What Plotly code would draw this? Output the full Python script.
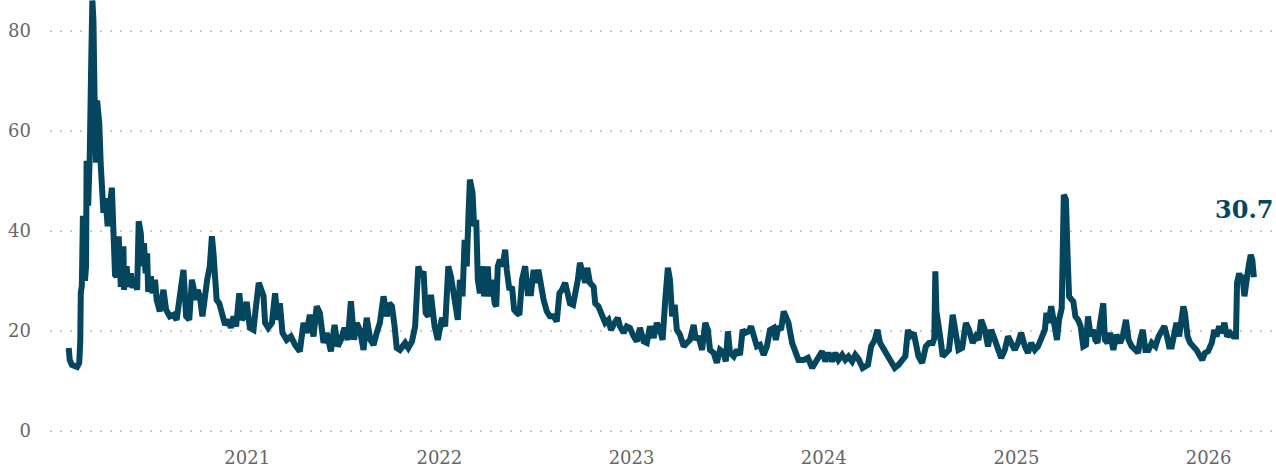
import pandas as pd
import plotly.graph_objects as go

# Euro Stoxx 50 volatility index (VSTOXX), daily closes sampled every few sessions.
# Observations are given as day counts from the series origin.
ORIGIN = pd.Timestamp("2020-01-01")

days = [
    27, 29, 33, 38, 43, 47, 49, 50, 52, 54, 56, 58, 60, 61, 64, 67, 70, 72, 74, 76,
    79, 81, 85, 88, 90, 93, 97, 101, 109, 112, 115, 118, 122, 126, 131, 132, 137, 140, 145, 148,
    153, 157, 160, 164, 167, 170, 173, 176, 178, 183, 186, 191, 194, 200, 207, 212, 219, 226, 232, 238,
    245, 250, 256, 261, 264, 269, 272, 276, 281, 286, 290, 295, 299, 302, 305, 308, 313, 318, 324, 330,
    335, 340, 345, 351, 356, 360, 365, 371, 378, 382, 388, 397, 400, 406, 413, 419, 424, 428, 433, 441,
    449, 457, 466, 473, 479, 485, 492, 498, 504, 511, 517, 525, 532, 538, 544, 551, 557, 563, 569, 574,
    580, 587, 593, 600, 606, 612, 618, 625, 631, 636, 641, 646, 650, 656, 666, 672, 679, 685, 691, 696,
    701, 705, 710, 715, 722, 728, 736, 742, 748, 753, 760, 766, 770, 775, 779, 783, 786, 789, 794, 797,
    801, 804, 808, 812, 816, 820, 823, 826, 831, 836, 839, 842, 846, 851, 856, 859, 864, 869, 873, 878,
    883, 888, 894, 899, 905, 910, 914, 919, 924, 929, 935, 941, 948, 954, 959, 964, 970, 975, 979, 985,
    989, 994, 998, 1003, 1008, 1012, 1017, 1024, 1027, 1033, 1040, 1046, 1052, 1057, 1064, 1070, 1074, 1081, 1087, 1093,
    1100, 1106, 1112, 1119, 1125, 1131, 1138, 1144, 1150, 1155, 1160, 1165, 1169, 1173, 1178, 1182, 1188, 1195, 1201, 1207,
    1214, 1218, 1223, 1230, 1236, 1241, 1245, 1252, 1258, 1264, 1271, 1275, 1279, 1283, 1290, 1296, 1302, 1307, 1312, 1318,
    1323, 1328, 1334, 1340, 1347, 1353, 1359, 1366, 1370, 1375, 1380, 1385, 1390, 1394, 1401, 1407, 1413, 1423, 1431, 1439,
    1445, 1451, 1458, 1464, 1470, 1477, 1483, 1489, 1496, 1502, 1508, 1515, 1521, 1527, 1535, 1545, 1551, 1558, 1563, 1568,
    1575, 1581, 1587, 1596, 1603, 1610, 1616, 1621, 1625, 1632, 1636, 1641, 1648, 1655, 1661, 1668, 1671, 1673, 1675, 1678,
    1683, 1687, 1693, 1699, 1706, 1711, 1717, 1724, 1731, 1737, 1744, 1750, 1755, 1760, 1767, 1773, 1779, 1786, 1792, 1798,
    1805, 1811, 1817, 1824, 1830, 1836, 1843, 1849, 1855, 1862, 1868, 1874, 1881, 1884, 1888, 1893, 1899, 1904, 1908, 1913,
    1917, 1921, 1924, 1927, 1932, 1935, 1939, 1944, 1949, 1954, 1959, 1963, 1968, 1972, 1977, 1981, 1986, 1992, 1995, 2000,
    2005, 2011, 2017, 2024, 2029, 2035, 2040, 2046, 2053, 2058, 2062, 2067, 2072, 2078, 2084, 2091, 2097, 2103, 2108, 2113,
    2117, 2122, 2127, 2131, 2136, 2140, 2144, 2147, 2152, 2157, 2163, 2169, 2176, 2180, 2185, 2191, 2198, 2203, 2207, 2212,
    2217, 2222, 2227, 2233, 2239, 2244, 2246, 2250, 2254, 2256, 2260, 2264, 2268, 2272, 2275, 2278,
]

vstoxx = [
    16.6, 14.2, 13.2, 12.9, 12.8, 13.6, 18.0, 27.6, 29.0, 43.0, 36.0, 30.0, 33.0, 54.0, 45.0, 55.0, 75.0, 86.0, 82.0, 67.6,
    53.6, 66.0, 61.6, 52.9, 47.6, 43.6, 46.5, 40.9, 48.6, 40.2, 31.2, 30.9, 38.9, 28.8, 36.9, 28.2, 32.9, 28.8, 31.5, 28.6,
    30.2, 28.2, 41.9, 39.5, 32.9, 37.5, 31.5, 35.5, 27.8, 30.9, 27.5, 30.2, 26.2, 23.9, 28.2, 24.2, 22.9, 23.2, 22.2, 26.9,
    32.2, 22.9, 22.2, 30.2, 28.2, 26.2, 28.2, 26.9, 22.9, 27.5, 30.2, 32.9, 38.9, 35.5, 31.5, 26.2, 25.5, 22.9, 21.2, 22.2,
    20.6, 22.9, 20.9, 27.5, 22.2, 22.9, 25.8, 20.6, 20.2, 24.2, 29.6, 27.0, 21.6, 20.6, 21.6, 27.5, 22.2, 25.5, 19.6, 18.2,
    18.9, 17.2, 15.9, 21.6, 19.6, 23.2, 18.9, 24.9, 23.6, 17.6, 19.6, 15.9, 21.2, 16.9, 18.2, 20.6, 18.2, 25.9, 18.2, 21.6,
    20.2, 16.2, 22.6, 18.2, 17.2, 19.6, 21.6, 26.9, 22.9, 25.5, 24.9, 20.9, 16.6, 16.2, 17.6, 16.6, 17.9, 20.9, 32.9, 30.9,
    31.9, 23.6, 22.9, 27.2, 20.9, 18.2, 22.6, 20.9, 32.9, 30.9, 24.9, 22.2, 30.2, 26.9, 38.2, 32.9, 42.2, 50.2, 47.6, 40.9,
    42.2, 30.2, 27.5, 32.9, 26.9, 31.5, 32.9, 26.9, 30.2, 25.5, 24.9, 32.9, 34.2, 32.9, 36.2, 32.2, 28.2, 28.8, 24.2, 23.6,
    23.2, 30.2, 32.9, 27.5, 27.5, 32.2, 29.6, 32.2, 28.8, 26.2, 23.9, 22.9, 22.9, 21.9, 27.5, 28.2, 29.6, 27.5, 25.5, 25.2,
    26.9, 30.2, 33.6, 31.5, 29.6, 32.6, 29.6, 28.8, 25.5, 24.9, 22.9, 21.6, 22.2, 20.2, 21.6, 22.6, 20.9, 19.6, 20.9, 20.6,
    18.9, 17.9, 20.6, 17.9, 17.6, 20.9, 18.6, 21.6, 20.2, 18.2, 26.2, 32.6, 30.2, 22.9, 25.2, 20.2, 19.2, 16.9, 17.6, 18.2,
    21.2, 18.2, 18.9, 16.2, 21.6, 20.2, 16.2, 15.6, 13.6, 16.2, 15.6, 13.9, 19.9, 15.6, 14.9, 16.2, 15.2, 20.2, 19.6, 19.9,
    20.9, 18.9, 16.9, 17.2, 15.2, 16.9, 20.2, 20.6, 18.2, 20.9, 20.2, 23.9, 22.2, 21.6, 17.6, 16.2, 14.2, 14.2, 14.6, 12.6,
    13.6, 14.2, 15.9, 13.9, 15.6, 13.9, 15.6, 14.2, 15.2, 14.2, 14.9, 13.9, 15.2, 14.4, 12.6, 13.2, 16.9, 18.2, 20.2, 17.6,
    16.2, 15.6, 14.2, 12.6, 13.2, 14.2, 14.9, 20.2, 18.9, 19.6, 16.9, 14.9, 13.6, 16.9, 17.6, 17.6, 18.5, 31.9, 24.0, 22.2,
    18.2, 14.9, 15.6, 16.2, 23.2, 18.9, 16.2, 16.6, 21.6, 20.2, 17.6, 18.9, 18.2, 22.2, 20.2, 16.9, 20.2, 18.2, 16.2, 14.6,
    16.2, 18.9, 17.6, 16.2, 17.6, 19.6, 16.9, 15.6, 17.6, 16.2, 16.9, 18.2, 20.2, 23.6, 21.6, 24.9, 20.2, 18.2, 22.2, 24.5,
    47.2, 46.2, 35.5, 26.9, 26.2, 25.9, 22.9, 22.2, 20.9, 16.9, 17.2, 22.9, 18.9, 20.2, 18.2, 17.6, 21.6, 25.5, 18.2, 17.6,
    19.6, 16.2, 19.2, 17.6, 18.9, 22.2, 18.2, 16.9, 16.2, 15.6, 18.2, 20.2, 16.2, 16.2, 17.6, 16.9, 18.9, 20.2, 20.9, 18.9,
    16.9, 16.9, 19.6, 21.6, 18.9, 22.2, 24.9, 23.6, 18.9, 17.6, 16.9, 16.2, 14.9, 14.2, 15.6, 15.9, 17.6, 20.2, 18.9, 20.9,
    19.6, 21.6, 18.9, 19.6, 18.9, 18.9, 29.6, 31.5, 30.2, 31.2, 26.9, 31.5, 32.9, 35.2, 34.2, 30.7,
]

year_ticks = ["2021-01-01", "2022-01-01", "2023-01-01", "2024-01-01", "2025-01-01", "2026-01-01"]
year_labels = ["2021", "2022", "2023", "2024", "2025", "2026"]
level_ticks = [0, 20, 40, 60, 80]

dates = ORIGIN + pd.to_timedelta(days, unit="D")

LINE = "#03465d"
TEXT = "#666666"
SERIF = "Georgia, 'DejaVu Serif', 'Liberation Serif', serif"

fig = go.Figure()
fig.add_trace(go.Scatter(
    x=dates, y=vstoxx, mode="lines",
    line=dict(color=LINE, width=6),
    hoverinfo="x+y", showlegend=False,
))

fig.add_annotation(
    x=dates[-1], y=vstoxx[-1], xref="x", yref="y",
    text=f"<b>{vstoxx[-1]:.1f}</b>", showarrow=False,
    font=dict(family=SERIF, size=24, color=LINE),
    xanchor="center", yanchor="middle", xshift=-10, yshift=68,
)

fig.update_layout(
    width=1276, height=470,
    margin=dict(l=50, r=0, t=0, b=25),
    paper_bgcolor="white", plot_bgcolor="white",
    font=dict(family=SERIF, size=18, color=TEXT),
)
fig.update_xaxes(
    range=["2019-12-23 12:00", "2026-05-09"],
    tickvals=year_ticks, ticktext=year_labels,
    showgrid=False, zeroline=False, showline=False, ticks="",
    tickfont=dict(family=SERIF, size=18, color=TEXT),
)
fig.update_yaxes(
    range=[-2.8, 86.1],
    tickvals=level_ticks,
    showgrid=True, gridcolor="#cccccc", gridwidth=2, griddash="2px,8px",
    zeroline=False, showline=False, ticks="", ticklabelstandoff=18,
    tickfont=dict(family=SERIF, size=18, color=TEXT),
)

fig.write_html("out.html")
